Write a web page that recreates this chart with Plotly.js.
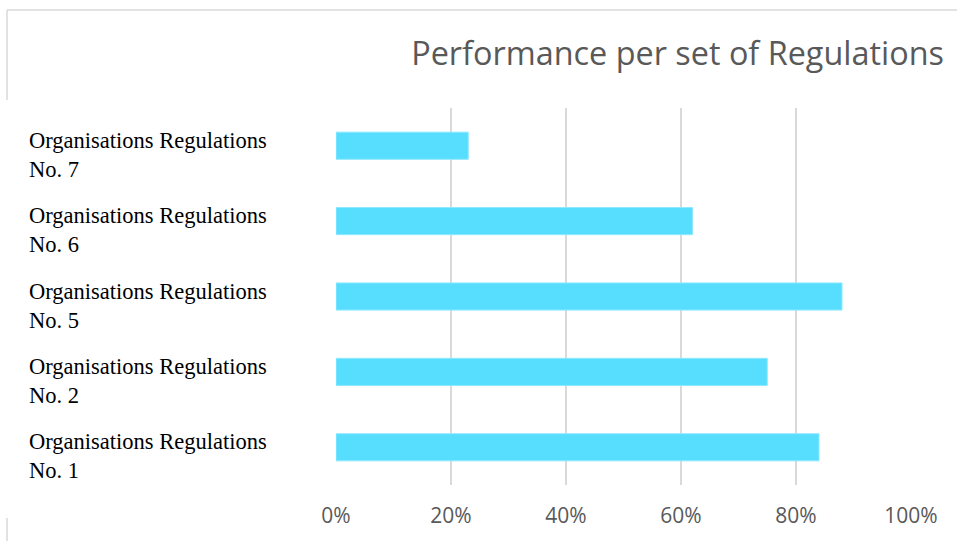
<!DOCTYPE html>
<html>
<head>
<meta charset="utf-8">
<script src="https://cdn.plot.ly/plotly-3.0.1.min.js"></script>
<style>html,body{margin:0;padding:0;background:#fff;}#chart{width:957px;height:541px;}</style>
</head>
<body>
<div id="chart"></div>
<script>
// Data (bottom to top, as drawn)
const categories = [
  "Organisations Regulations<br>No. 1",
  "Organisations Regulations<br>No. 2",
  "Organisations Regulations<br>No. 5",
  "Organisations Regulations<br>No. 6",
  "Organisations Regulations<br>No. 7"
];
const performance = [0.84, 0.75, 0.88, 0.62, 0.23];
const xTickValues = [0, 0.2, 0.4, 0.6, 0.8, 1.0];
const xTickLabels = ["0%", "20%", "40%", "60%", "80%", "100%"];
const chartTitle = "Performance per set of Regulations";

const W = 957, H = 541;
const M = {l: 336, r: 46, t: 108, b: 56};
const plotW = W - M.l - M.r;
const plotH = H - M.t - M.b;
const px2paperX = px => (px - M.l) / plotW;
const px2paperY = py => (H - M.b - py) / plotH;

const trace = {
  type: "bar",
  orientation: "h",
  y: categories,
  x: performance,
  marker: {color: "#57DEFF", line: {color: "#8FE8FF", width: 1}},
  width: 0.36,
  hoverinfo: "x+y"
};

const annotations = categories.map(c => ({
  xref: "paper", yref: "y",
  x: px2paperX(27), y: c,
  xanchor: "left", yanchor: "middle", align: "left",
  yshift: -9,
  text: c, showarrow: false,
  font: {family: "Liberation Serif, DejaVu Serif, serif", size: 22.5, color: "#000000"}
}));

const borderColor = "#d9d9d9";
const shapes = [
  {type: "line", xref: "paper", yref: "paper",
   x0: px2paperX(7), x1: px2paperX(957), y0: px2paperY(10), y1: px2paperY(10),
   line: {color: borderColor, width: 1.5}},
  {type: "line", xref: "paper", yref: "paper",
   x0: px2paperX(7), x1: px2paperX(7), y0: px2paperY(10), y1: px2paperY(100),
   line: {color: borderColor, width: 1.5}},
  {type: "line", xref: "paper", yref: "paper",
   x0: px2paperX(7), x1: px2paperX(7), y0: px2paperY(518), y1: px2paperY(541),
   line: {color: borderColor, width: 1.5}}
];

const layout = {
  width: W, height: H,
  margin: M,
  paper_bgcolor: "#ffffff",
  plot_bgcolor: "#ffffff",
  showlegend: false,
  title: {
    text: chartTitle,
    xref: "container", yref: "container",
    x: 944 / W, xanchor: "right",
    y: 1 - 54 / H, yanchor: "middle",
    font: {family: "Open Sans, sans-serif", size: 32.4, color: "#595959"}
  },
  xaxis: {
    range: [0, 1],
    tickvals: xTickValues,
    ticktext: xTickLabels,
    showgrid: true,
    gridcolor: "#d9d9d9",
    gridwidth: 1.5,
    zeroline: false,
    showline: false,
    ticks: "",
    ticklabelstandoff: 16,
    tickfont: {family: "Open Sans, sans-serif", size: 21, color: "#595959"},
    fixedrange: true
  },
  yaxis: {
    type: "category",
    range: [-0.5, 4.5],
    showticklabels: false,
    showgrid: false,
    zeroline: false,
    showline: false,
    ticks: "",
    fixedrange: true
  },
  bargap: 0.64,
  annotations: annotations,
  shapes: shapes
};

Plotly.newPlot("chart", [trace], layout, {displayModeBar: false, staticPlot: true});
</script>
</body>
</html>
